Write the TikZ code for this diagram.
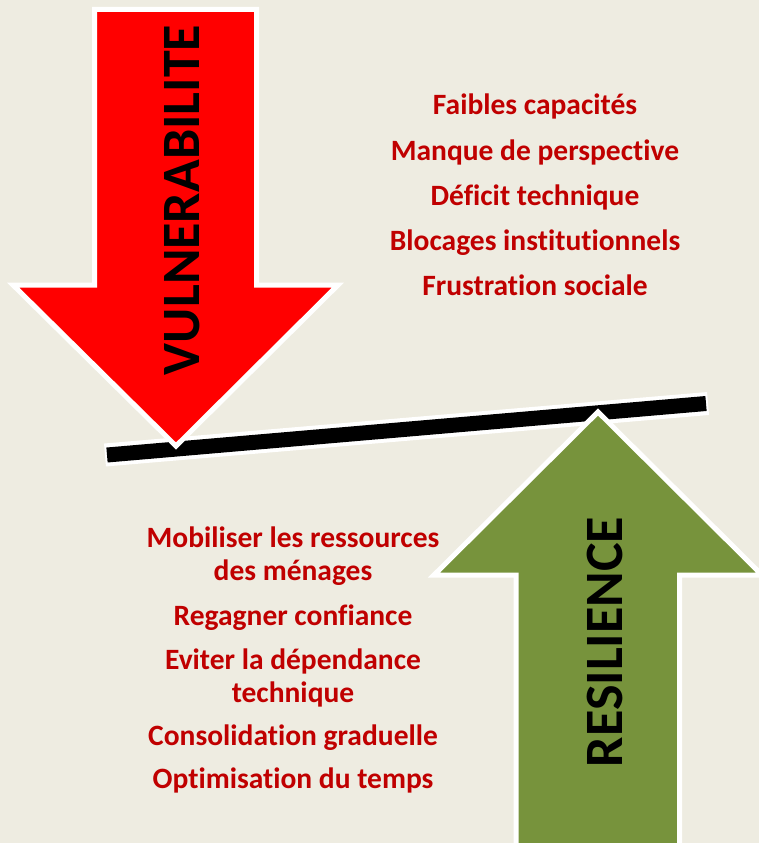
\documentclass[tikz,border=0pt]{standalone}
\usepackage{fontspec}
\setmainfont{Carlito}[Ligatures = NoCommon]
\definecolor{bgtan}{HTML}{EEECE1}
\definecolor{vulnred}{HTML}{FF0000}
\definecolor{resgreen}{HTML}{77933C}
\definecolor{itemred}{HTML}{C00000}
\tikzset{
    bigarrow/.style = {draw = white, line width = 5pt, line join = miter},
    item/.style = {text = itemred, font = \fontsize{29.5}{33}\selectfont\bfseries, align = center, inner sep = 0pt, anchor = base},
    biglabel/.style = {font = \fontsize{54}{60}\selectfont\bfseries, rotate = 90, inner sep = 0pt}
}
\begin{document}
\begin{tikzpicture}[x = 1pt, y = -1pt]

    \fill[bgtan] (0, 0) rectangle (759, 843);
    \useasboundingbox (0, 0) rectangle (759, 843);

    % balance bar
    \draw[white, line width = 23pt] (105, 455) -- (708, 403.5);
    \draw[black, line width = 15pt] (107, 455) -- (706, 403.5);

    % down arrow
    \draw[bigarrow, fill = vulnred] (94.5, 9.5) -- (256.5, 9.5) -- (256.5, 285) -- (338, 285)
        -- (176, 446) -- (13, 285) -- (94.5, 285) -- cycle;
    \node[biglabel] (vuln) at (182, 200) {VULNERABILITE};

    % up arrow
    \draw[bigarrow, fill = resgreen] (516, 850) -- (516, 575) -- (434, 575) -- (598, 412)
        -- (762, 575) -- (679.5, 575) -- (679.5, 850) -- cycle;
    \node[biglabel] (resil) at (604.5, 642) {RESILIENCE};

    \node[item] (faibles) at (535, 114) {Faibles capacités};
    \node[item] (manque) at (535, 160) {Manque de perspective};
    \node[item] (deficit) at (535, 205) {Déficit technique};
    \node[item] (blocages) at (535, 250) {Blocages institutionnels};
    \node[item] (frustration) at (535, 295) {Frustration sociale};

    % two-line items sit on the baseline of their last line
    \node[item] (mobiliser) at (293, 580) {Mobiliser les ressources\\des ménages};
    \node[item] (regagner) at (293, 625) {Regagner confiance};
    \node[item] (eviter) at (293, 702) {Eviter la dépendance\\technique};
    \node[item] (consolidation) at (293, 745) {Consolidation graduelle};
    \node[item] (optimisation) at (293, 788) {Optimisation du temps};

\end{tikzpicture}
\end{document}
